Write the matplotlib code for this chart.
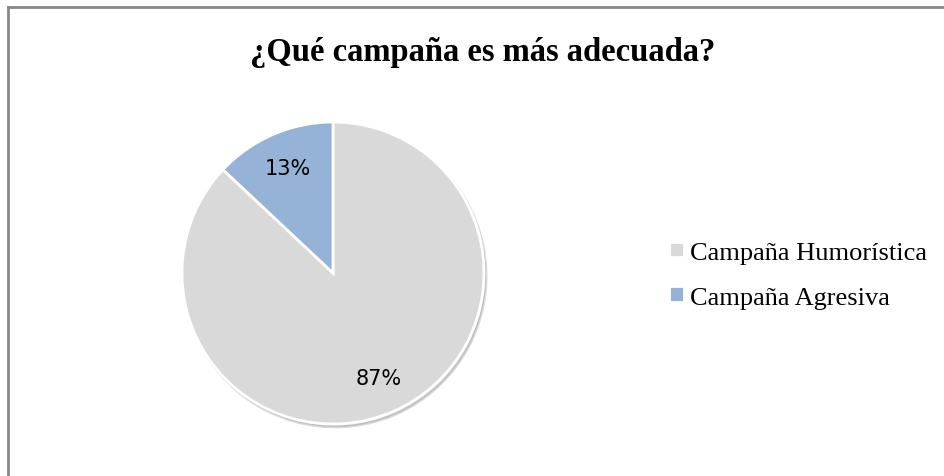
import matplotlib.pyplot as plt
from matplotlib.lines import Line2D

labels = ['Campaña Humorística', 'Campaña Agresiva']
values = [87, 13]
colors = ['#D9D9D9', '#95B3D7']

W, H = 944, 477
fig = plt.figure(figsize=(W / 100, H / 100), dpi=100)

# pie axes: center ~ (333, 274) px, radius ~151 px
cx, cy, r = 333, 274, 151
ax = fig.add_axes([(cx - r) / W, (H - cy - r) / H, 2 * r / W, 2 * r / H])
wedges, texts, autotexts = ax.pie(
    values, colors=colors, startangle=90, counterclock=False,
    autopct='%1.0f%%', pctdistance=0.76,
    wedgeprops=dict(edgecolor='white', linewidth=2),
    textprops=dict(fontsize=15, color='black', family='DejaVu Sans'),
    shadow=dict(ox=0.01, oy=-0.014, shade=0.4, alpha=0.3))
ax.set_xlim(-1, 1)
ax.set_ylim(-1, 1)
ax.set_aspect('equal')
ax.axis('off')
for p in ax.patches:
    p.set_clip_on(False)

fig.text(483 / W, 1 - 52 / H, '¿Qué campaña es más adecuada?', ha='center', va='center',
         fontsize=23.5, fontweight='bold', family='Liberation Serif')

leg = fig.legend(wedges, labels, loc='center left', bbox_to_anchor=(669 / W, 1 - 276 / H),
                 frameon=False, prop=dict(family='Liberation Serif', size=19),
                 handlelength=0.55, handleheight=0.55, handletextpad=0.25, labelspacing=0.85,
                 borderaxespad=0, borderpad=0)

# chart frame (left and top edges visible)
fig.add_artist(Line2D([8 / W, 8 / W], [0, 1 - 8 / H], color='#888888', lw=2))
fig.add_artist(Line2D([8 / W, 1], [1 - 8 / H, 1 - 8 / H], color='#888888', lw=2))

fig.savefig('out.png', dpi=100)
